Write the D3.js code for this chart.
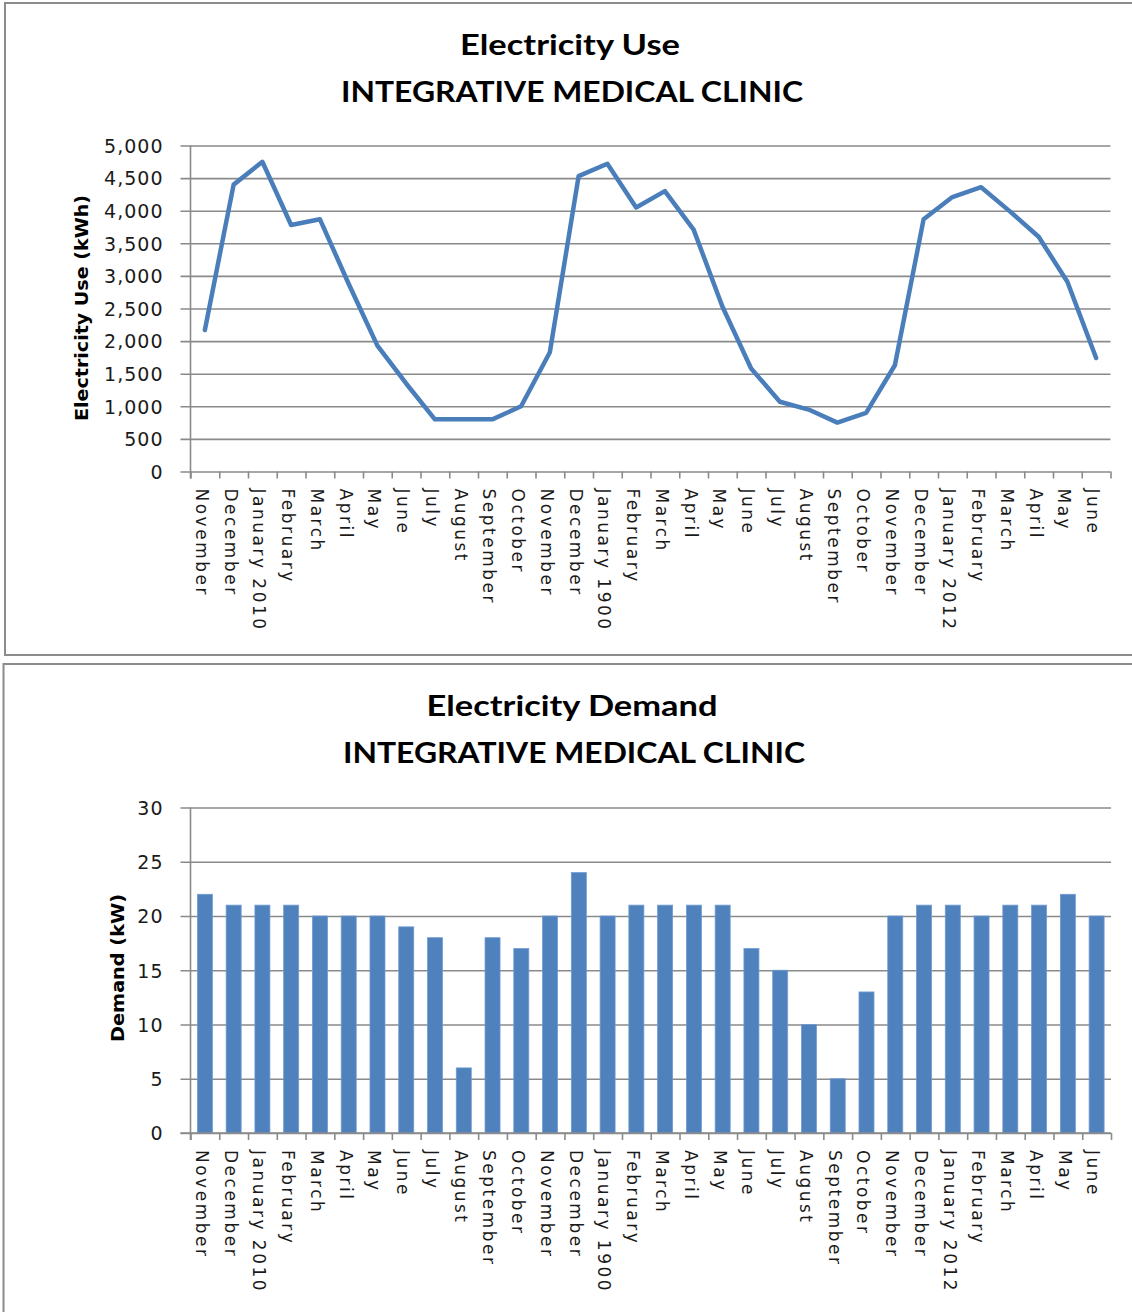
<!DOCTYPE html>
<html>
<head>
<meta charset="utf-8">
<script src="https://cdn.jsdelivr.net/npm/d3@7"></script>
<style>
  html, body { margin: 0; padding: 0; background: #fff; }
  svg { display: block; }
</style>
</head>
<body>
<svg id="chart" width="1132" height="1312"></svg>
<script>
// Month labels along both category axes (Nov 2009 – Jun 2012, as labelled in the workbook)
const months = [
  "November", "December", "January 2010", "February", "March", "April", "May", "June",
  "July", "August", "September", "October", "November", "December", "January 1900", "February",
  "March", "April", "May", "June", "July", "August", "September", "October",
  "November", "December", "January 2012", "February", "March", "April", "May", "June"
];

// Monthly electricity use (kWh)
const usageKWh = [
  2170, 4400, 4750, 3780, 3870, 2880, 1930, 1350,
  800, 800, 800, 1000, 1830, 4530, 4720, 4050,
  4300, 3710, 2530, 1580, 1070, 950, 750, 900,
  1630, 3870, 4210, 4360, 3990, 3600, 2910, 1740
];

// Monthly peak demand (kW)
const demandKW = [
  22, 21, 21, 21, 20, 20, 20, 19,
  18, 6, 18, 17, 20, 24, 20, 21,
  21, 21, 21, 17, 15, 10, 5, 13,
  20, 21, 21, 20, 21, 21, 22, 20
];

const usageTicks = [0, 500, 1000, 1500, 2000, 2500, 3000, 3500, 4000, 4500, 5000];
const demandTicks = [0, 5, 10, 15, 20, 25, 30];

const titleLine2 = "INTEGRATIVE MEDICAL CLINIC";

const svg = d3.select("#chart");
const gridColor = "#8a8a8a";
const lineBlue = "#4a7ebb";
const barBlue = "#4f81bd";
const idx = d3.range(months.length);

// Chart frames
svg.append("rect").attr("x", 5).attr("y", 3).attr("width", 1140).attr("height", 652)
  .attr("fill", "#fff").attr("stroke", "#8c8c8c").attr("stroke-width", 2);
svg.append("rect").attr("x", 3.5).attr("y", 664).attr("width", 1140).attr("height", 660)
  .attr("fill", "#fff").attr("stroke", "#8c8c8c").attr("stroke-width", 2);

function drawFrame(cfg) {
  const g = svg.append("g");
  const x = d3.scaleBand().domain(idx).range([cfg.left, cfg.right]).paddingInner(0).paddingOuter(0);
  const xb = d3.scaleLinear().domain([0, months.length]).range([cfg.left, cfg.right]);
  const y = d3.scaleLinear().domain(cfg.domain).range([cfg.bottom, cfg.top]);

  // titles
  const t = g.append("g").attr("font-family", "Lato, 'Open Sans', sans-serif")
    .attr("font-weight", "bold").attr("font-size", 28).attr("fill", "#000")
    .attr("text-anchor", "middle");
  t.append("text").attr("x", cfg.titleX).attr("y", cfg.titleY1).text(cfg.title)
    .attr("textLength", cfg.titleLen).attr("lengthAdjust", "spacingAndGlyphs");
  t.append("text").attr("x", cfg.titleX + 2).attr("y", cfg.titleY1 + 46.5).text(titleLine2)
    .attr("textLength", 462).attr("lengthAdjust", "spacingAndGlyphs");

  // horizontal gridlines + y ticks
  const yAxis = d3.axisLeft(y).tickValues(cfg.ticks).tickFormat(cfg.fmt)
    .tickSize(-(cfg.right - cfg.left)).tickPadding(0);
  const ya = g.append("g").attr("transform", `translate(${cfg.left},0)`).call(yAxis);
  ya.select(".domain").remove();
  ya.selectAll(".tick line").attr("stroke", gridColor).attr("stroke-width", 1.6)
    .attr("x1", -10);
  ya.selectAll(".tick text")
    .attr("x", -27).attr("dy", "0.36em")
    .attr("font-family", "'DejaVu Sans', sans-serif").attr("font-size", 19)
    .attr("letter-spacing", 1).attr("fill", "#1a1a1a");

  // vertical axis line
  g.append("line").attr("x1", cfg.left).attr("x2", cfg.left)
    .attr("y1", cfg.top).attr("y2", cfg.bottom + 7)
    .attr("stroke", gridColor).attr("stroke-width", 1.6);

  // category boundary ticks
  const xt = d3.axisBottom(xb).tickValues(d3.range(months.length + 1)).tickFormat("").tickSize(7);
  const xa = g.append("g").attr("transform", `translate(0,${cfg.bottom})`).call(xt);
  xa.select(".domain").remove();
  xa.selectAll(".tick line").attr("stroke", gridColor).attr("stroke-width", 1.6);

  // category labels, rotated to read downward
  const xl = d3.axisBottom(x).tickSize(0).tickFormat(i => months[i]);
  const la = g.append("g").attr("transform", `translate(0,${cfg.bottom})`).call(xl);
  la.select(".domain").remove();
  la.selectAll(".tick text")
    .attr("transform", "rotate(90)")
    .attr("x", 17).attr("y", 0).attr("dy", "0.36em").attr("dx", 0)
    .attr("text-anchor", "start")
    .attr("font-family", "'DejaVu Sans', sans-serif").attr("font-size", 17)
    .attr("letter-spacing", 2.5).attr("fill", "#1a1a1a");
  la.selectAll(".tick").attr("transform", d => `translate(${x(d) + x.bandwidth() / 2 - 3},0)`);

  // axis title
  g.append("text")
    .attr("transform", `translate(${cfg.ylabX},${cfg.ylabY}) rotate(-90)`)
    .attr("text-anchor", "middle").attr("dy", "0.36em")
    .attr("font-family", "'DejaVu Sans', sans-serif").attr("font-weight", "bold")
    .attr("font-size", 18).attr("fill", "#000")
    .attr("textLength", cfg.ylabLen).attr("lengthAdjust", "spacingAndGlyphs")
    .text(cfg.ylab);

  return { g, x, y };
}

// Electricity use: line chart
const useChart = drawFrame({
  left: 190.5, right: 1110.5, top: 145.5, bottom: 471.5,
  domain: [0, 5000], ticks: usageTicks, fmt: d3.format(","),
  title: "Electricity Use", titleX: 570, titleY1: 55, titleLen: 220,
  ylab: "Electricity Use (kWh)", ylabX: 82, ylabY: 308, ylabLen: 226
});
const usageLine = d3.line()
  .x((d, i) => useChart.x(i) + useChart.x.bandwidth() / 2)
  .y(d => useChart.y(d));
useChart.g.append("path").datum(usageKWh)
  .attr("d", usageLine).attr("fill", "none")
  .attr("stroke", lineBlue).attr("stroke-width", 4.5)
  .attr("stroke-linejoin", "round").attr("stroke-linecap", "round");

// Electricity demand: column chart
const demandChart = drawFrame({
  left: 190.5, right: 1111, top: 807.5, bottom: 1133,
  domain: [0, 30], ticks: demandTicks, fmt: d3.format("d"),
  title: "Electricity Demand", titleX: 572, titleY1: 716, titleLen: 291,
  ylab: "Demand (kW)", ylabX: 118, ylabY: 968, ylabLen: 148
});
const barW = 15;
demandChart.g.append("g").selectAll("rect").data(demandKW).join("rect")
  .attr("x", (d, i) => demandChart.x(i) + demandChart.x.bandwidth() / 2 - barW / 2)
  .attr("width", barW)
  .attr("y", d => demandChart.y(d))
  .attr("height", d => demandChart.y(0) - demandChart.y(d))
  .attr("fill", barBlue)
  .attr("stroke", "#6f9bd1").attr("stroke-width", 0.8);
// redraw baseline over bars
demandChart.g.append("line").attr("x1", 180.5).attr("x2", 1111)
  .attr("y1", 1133).attr("y2", 1133)
  .attr("stroke", gridColor).attr("stroke-width", 1.6);
</script>
</body>
</html>
